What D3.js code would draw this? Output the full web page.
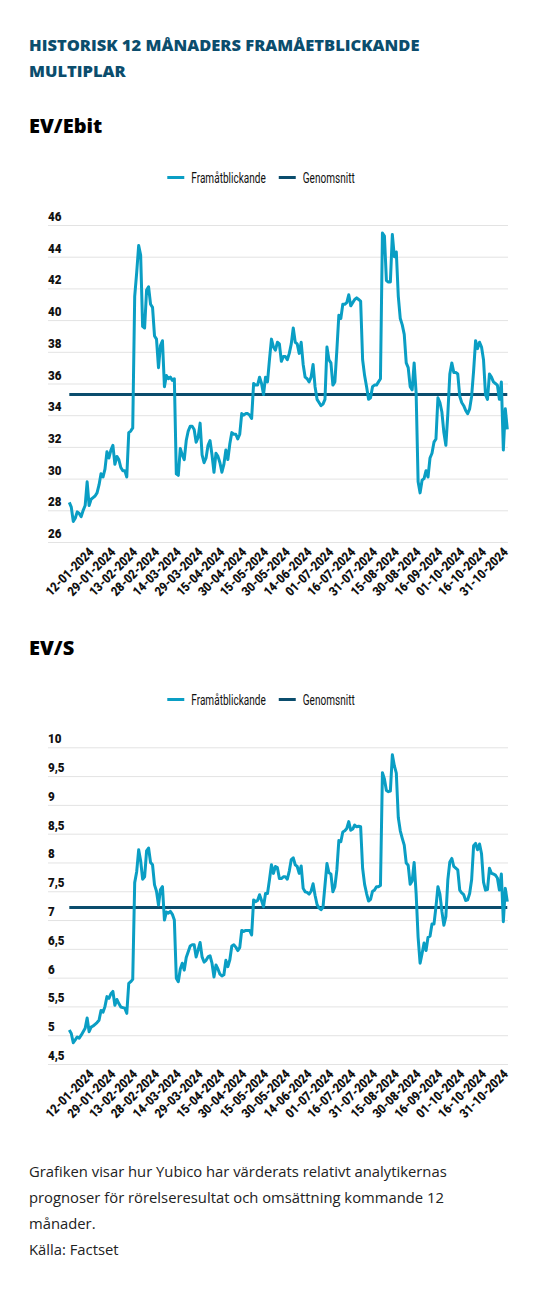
<!DOCTYPE html>
<html>
<head>
<meta charset="utf-8">
<script src="https://cdn.jsdelivr.net/npm/d3@7"></script>
<style>
  body { margin: 0; background: #fff; }
  svg { display: block; }
</style>
</head>
<body>
<svg id="chart" width="550" height="1292"></svg>
<script>
// first trading day in the series, categories are every weekday from here
var startDay = "2023-12-28";

var tickLabels = ["12-01-2024", "29-01-2024", "13-02-2024", "28-02-2024", "14-03-2024",
  "29-03-2024", "15-04-2024", "30-04-2024", "15-05-2024", "30-05-2024", "14-06-2024",
  "01-07-2024", "16-07-2024", "31-07-2024", "15-08-2024", "30-08-2024", "16-09-2024",
  "01-10-2024", "16-10-2024", "31-10-2024"];

var seriesNames = ["Framåtblickande", "Genomsnitt"];

// EV/Ebit, forward 12m
var evEbit = [
  28.5, 28.2, 27.3, 27.5, 27.9, 27.8, 27.6, 28.0, 28.3, 29.8,
  28.3, 28.7, 28.8, 28.9, 29.1, 29.6, 30.3, 30.1, 30.6, 31.7,
  31.3, 31.8, 32.1, 30.9, 31.4, 31.2, 30.7, 30.5, 30.5, 30.1,
  32.9, 33.0, 33.2, 41.5, 43.0, 44.7, 44.1, 39.6, 39.5, 41.9,
  42.1, 41.0, 40.8, 39.0, 38.8, 37.0, 38.4, 38.7, 35.8, 36.5,
  36.3, 36.4, 36.2, 36.3, 30.3, 30.2, 31.9, 31.5, 31.2, 32.4,
  33.0, 33.3, 33.3, 33.1, 32.3, 32.6, 33.5, 31.5, 31.0, 31.3,
  32.1, 32.4, 31.5, 30.4, 31.6, 31.4, 31.0, 30.4, 30.9, 31.8,
  31.2, 32.2, 32.9, 32.8, 32.8, 32.5, 32.8, 34.1, 34.0, 34.1,
  34.1, 34.0, 33.8, 36.0, 35.9, 35.9, 36.4, 36.0, 35.3, 36.4,
  36.1, 37.5, 38.8, 38.3, 38.1, 38.6, 38.5, 37.4, 37.7, 37.7,
  37.5, 37.9, 38.5, 39.5, 38.6, 38.5, 37.9, 38.6, 37.2, 36.4,
  36.3, 36.1, 36.4, 37.2, 35.8, 35.0, 34.8, 34.6, 34.7, 35.0,
  38.3, 37.5, 37.3, 35.9, 36.1, 38.1, 40.3, 40.1, 41.0, 41.0,
  41.1, 41.6, 40.9, 41.1, 41.3, 41.4, 41.3, 41.2, 37.5, 36.5,
  35.8, 35.0, 35.1, 35.8, 35.9, 35.9, 36.1, 36.3, 45.5, 45.3,
  42.5, 42.4, 42.4, 45.4, 44.0, 44.3, 41.5, 40.1, 39.7, 39.1,
  37.3, 37.0, 35.8, 35.6, 37.3, 35.4, 29.8, 29.1, 29.9, 30.0,
  30.5, 30.1, 31.3, 31.6, 32.3, 32.5, 35.1, 34.8, 34.2, 32.9,
  32.1, 34.1, 36.6, 37.3, 36.7, 36.7, 36.6, 35.2, 34.8, 34.6,
  34.3, 34.1, 34.4, 35.2, 36.8, 38.7, 38.2, 38.6, 38.3, 37.5,
  35.3, 35.0, 36.6, 36.4, 36.1, 36.0, 35.9, 35.0, 36.1, 31.8,
  34.4, 33.1
];
var evEbitAvg = 35.3;
var evEbitTicks = [26, 28, 30, 32, 34, 36, 38, 40, 42, 44, 46];

// EV/S, forward 12m
var evS = [
  5.09, 5.03, 4.87, 4.92, 4.97, 4.95, 5.00, 5.06, 5.12, 5.30,
  5.06, 5.14, 5.16, 5.19, 5.22, 5.26, 5.43, 5.40, 5.50, 5.67,
  5.64, 5.72, 5.76, 5.52, 5.62, 5.55, 5.49, 5.48, 5.47, 5.38,
  5.90, 5.93, 5.97, 7.65, 7.84, 8.22, 8.03, 7.71, 7.75, 8.20,
  8.25, 8.00, 7.96, 7.61, 7.50, 7.26, 7.53, 7.58, 7.00, 7.14,
  7.12, 7.15, 7.10, 7.00, 5.99, 5.93, 6.15, 6.25, 6.13, 6.35,
  6.45, 6.55, 6.57, 6.57, 6.36, 6.48, 6.61, 6.36, 6.27, 6.30,
  6.36, 6.38, 6.25, 6.01, 6.22, 6.15, 6.06, 6.03, 6.05, 6.30,
  6.19, 6.31, 6.55, 6.57, 6.53, 6.47, 6.52, 6.82, 6.80, 6.82,
  6.82, 6.82, 6.74, 7.35, 7.32, 7.34, 7.44, 7.34, 7.23, 7.46,
  7.46, 7.70, 7.96, 7.81, 7.93, 7.91, 7.72, 7.72, 7.75, 7.75,
  7.71, 7.85, 8.05, 8.08, 7.96, 7.93, 7.81, 7.94, 7.55, 7.49,
  7.48, 7.45, 7.50, 7.63, 7.43, 7.27, 7.21, 7.18, 7.22, 7.60,
  7.98, 7.82, 7.80, 7.49, 7.58, 7.87, 8.38, 8.36, 8.53, 8.55,
  8.59, 8.71, 8.56, 8.58, 8.65, 8.62, 8.63, 8.62, 7.90, 7.62,
  7.46, 7.33, 7.36, 7.50, 7.52, 7.58, 7.58, 7.60, 9.56, 9.45,
  9.25, 9.23, 9.24, 9.87, 9.68, 9.55, 8.78, 8.55, 8.42, 8.30,
  7.99, 7.95, 7.62, 7.68, 8.00, 7.46, 6.70, 6.25, 6.42, 6.60,
  6.47, 6.70, 6.72, 6.93, 6.93, 7.23, 7.58, 7.45, 7.15, 6.91,
  7.06, 7.70, 8.01, 8.07, 7.93, 7.90, 7.87, 7.52, 7.47, 7.44,
  7.34, 7.35, 7.46, 7.70, 8.29, 8.33, 8.22, 8.32, 8.15, 7.66,
  7.52, 7.53, 7.90, 7.81, 7.80, 7.78, 7.73, 7.52, 7.80, 6.97,
  7.55, 7.32
];
var evSAvg = 7.22;
var evSTicks = [4.5, 5, 5.5, 6, 6.5, 7, 7.5, 8, 8.5, 9, 9.5, 10];

var footerLines = [
  "Grafiken visar hur Yubico har värderats relativt analytikernas",
  "prognoser för rörelseresultat och omsättning kommande 12",
  "månader.",
  "Källa: Factset"
];

var lightBlue = "#0a9ec4";
var darkBlue = "#0b4d6d";
var bodyFont = "'Open Sans', sans-serif";
var narrowFont = "Roboto, sans-serif";

var fmtDay = d3.timeFormat("%d-%m-%Y");
var commaFmt = function(v){ return String(v).replace(".", ","); };

function weekdays(from, n){
  var out = [];
  var d = d3.timeParse("%Y-%m-%d")(from);
  while(out.length < n){
    var wd = d.getDay();
    if(wd != 0 && wd != 6) out.push(fmtDay(d));
    d = d3.timeDay.offset(d, 1);
  }
  return out;
}

var svg = d3.select("#chart");

svg.append("text")
  .attr("x", 29).attr("y", 51)
  .attr("fill", darkBlue)
  .style("font", "800 16.5px " + bodyFont)
  .text("HISTORISK 12 MÅNADERS FRAMÅETBLICKANDE");
svg.append("text")
  .attr("x", 29).attr("y", 77)
  .attr("fill", darkBlue)
  .style("font", "800 16.5px " + bodyFont)
  .text("MULTIPLAR");

function drawPanel(opts){
  var days = weekdays(startDay, opts.values.length);
  var x = d3.scalePoint().domain(days).range([69.3, 507.3]);
  var y = d3.scaleLinear().domain([opts.ticks[0], opts.ticks[opts.ticks.length - 1]])
    .range([opts.bottom, opts.top]);

  var g = svg.append("g");

  g.append("text")
    .attr("x", 29).attr("y", opts.titleY)
    .attr("fill", "#000")
    .style("font", "800 20px " + bodyFont)
    .text(opts.title);

  // legend, centred on the plot; text squeezed to look like a condensed face
  var leg = g.append("g");
  var cx = 0;
  var colors = [lightBlue, darkBlue];
  var squeeze = 0.67;
  seriesNames.forEach(function(name, i){
    var item = leg.append("g").attr("transform", "translate(" + cx + ",0)");
    item.append("line")
      .attr("x1", 0).attr("x2", 17)
      .attr("y1", -5.5).attr("y2", -5.5)
      .attr("stroke", colors[i]).attr("stroke-width", 3);
    var t = item.append("text")
      .attr("transform", "translate(24,0) scale(" + squeeze + ",1)")
      .attr("fill", "#111")
      .style("font", "400 15px " + narrowFont)
      .text(name);
    cx += 24 + t.node().getComputedTextLength() * squeeze + 13;
  });
  var legW = cx - 13;
  leg.attr("transform", "translate(" + (261 - legW / 2) + "," + opts.legendY + ")");

  // y grid + labels
  var yAxis = d3.axisRight(y).tickValues(opts.ticks).tickSize(460).tickFormat(commaFmt);
  var ya = g.append("g").attr("transform", "translate(48,0)").call(yAxis);
  ya.select(".domain").remove();
  ya.selectAll(".tick line").attr("stroke", "#e3e3e3").attr("stroke-width", 1);
  ya.selectAll(".tick text")
    .attr("x", 0).attr("dy", -4.5)
    .attr("transform", "scale(0.86,1)")
    .attr("text-anchor", "start")
    .attr("fill", "#111")
    .style("font", "900 13.5px " + narrowFont);

  // x labels
  var xAxis = d3.axisBottom(x).tickValues(tickLabels).tickSize(0);
  var xa = g.append("g").attr("transform", "translate(0," + (opts.bottom + 11) + ")").call(xAxis);
  xa.select(".domain").remove();
  xa.selectAll(".tick text")
    .attr("x", 0).attr("y", 0).attr("dy", 0)
    .attr("transform", "translate(3,0) rotate(-45) scale(0.86,1)")
    .attr("text-anchor", "end")
    .attr("fill", "#111")
    .style("font", "900 13px " + narrowFont);

  // average line
  g.append("line")
    .attr("x1", x.range()[0]).attr("x2", x.range()[1])
    .attr("y1", y(opts.avg)).attr("y2", y(opts.avg))
    .attr("stroke", darkBlue).attr("stroke-width", 3);

  var line = d3.line()
    .x(function(d, i){ return x(days[i]); })
    .y(function(d){ return y(d); });

  g.append("path")
    .datum(opts.values)
    .attr("d", line)
    .attr("fill", "none")
    .attr("stroke", lightBlue)
    .attr("stroke-width", 3)
    .attr("stroke-linejoin", "round");
}

drawPanel({ title: "EV/Ebit", titleY: 133, legendY: 183, values: evEbit, avg: evEbitAvg,
  ticks: evEbitTicks, top: 225, bottom: 542 });
drawPanel({ title: "EV/S", titleY: 655, legendY: 705, values: evS, avg: evSAvg,
  ticks: evSTicks, top: 747.3, bottom: 1064 });

svg.append("g").selectAll("text")
  .data(footerLines)
  .enter().append("text")
  .attr("x", 29)
  .attr("y", function(d, i){ return 1177 + i * 26; })
  .attr("fill", "#222")
  .style("font", "400 14.8px " + bodyFont)
  .text(function(d){ return d; });
</script>
</body>
</html>
